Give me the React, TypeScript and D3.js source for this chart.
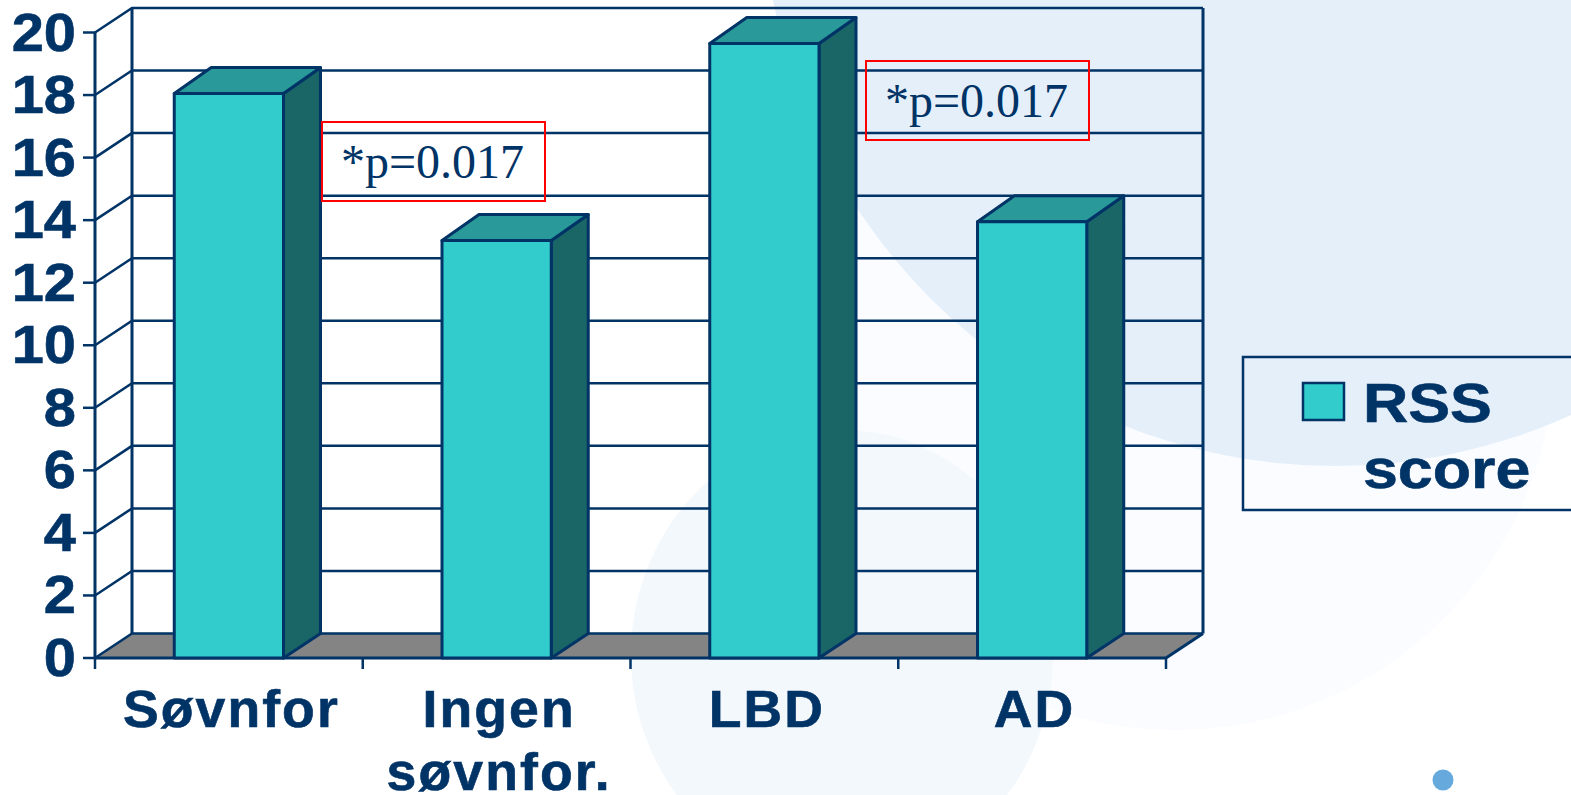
import React, { useEffect, useRef } from 'react';
import * as d3 from 'd3';

const categories = ['Søvnfor', 'Ingen søvnfor.', 'LBD', 'AD'];
const rssScore = [18.05, 13.35, 19.65, 13.95];
const yTicks = [0, 2, 4, 6, 8, 10, 12, 14, 16, 18, 20];
const legendLines = ['RSS', 'score'];
const annotationText = '*p=0.017';

const NAVY = '#003366';
const width = 1571;
const height = 795;

export default function App() {
  const svgRef = useRef<SVGSVGElement>(null);

  useEffect(() => {
    if (!svgRef.current) return;

    const svg = d3.select(svgRef.current);
    svg.selectAll('*').remove();

    // decoration behind the chart
    const bg = svg.append('g');
    bg.append('circle').attr('cx', 1175).attr('cy', 350).attr('r', 380).attr('fill', '#fafcff');
    bg.append('ellipse').attr('cx', 842).attr('cy', 655).attr('rx', 211).attr('ry', 225).attr('fill', '#f3f8fc');
    bg.append('circle').attr('cx', 1335).attr('cy', -106).attr('r', 572).attr('fill', '#e5effa');
    bg.append('circle').attr('cx', 1443).attr('cy', 780).attr('r', 10.5).attr('fill', '#66aadd');

    // scales
    const x = d3.scaleBand().domain(categories).range([95, 1166]).paddingInner(0.592).paddingOuter(0.296);
    const y = d3.scaleLinear().domain([0, 20]).range([658, 32.5]);
    const depthX = 37;
    const depthY = -24.5;
    const barTopDepthY = -26;
    const step = x.step();
    const x0 = 95;
    const x1 = 1166;

    // floor
    svg.append('path')
      .attr('d', `M${x0},${y(0)}L${x0 + depthX},${y(0) + depthY}L${x1 + depthX},${y(0) + depthY}L${x1},${y(0)}Z`)
      .attr('fill', '#848484');

    // grid lines on the back and side walls
    const grid = svg.append('g').attr('stroke', NAVY).attr('stroke-width', 2.5).attr('fill', 'none');
    grid.selectAll('.wall')
      .data(yTicks)
      .enter()
      .append('path')
      .attr('class', 'wall')
      .attr('d', d => `M${x0},${y(d)}L${x0 + depthX},${y(d) + depthY}L${x1 + depthX},${y(d) + depthY}`);
    grid.append('path')
      .attr('d', `M${x0},${y(0)}V${y(20)}M${x0 + depthX},${y(0) + depthY}V${y(20) + depthY}M${x1 + depthX},${y(0) + depthY}V${y(20) + depthY}`)
      .attr('stroke-width', 3);
    grid.append('path')
      .attr('d', `M${x0},${y(0)}H${x1}L${x1 + depthX},${y(0) + depthY}`)
      .attr('stroke-width', 3);

    // axis ticks
    grid.selectAll('.ytick')
      .data(yTicks)
      .enter()
      .append('line')
      .attr('class', 'ytick')
      .attr('x1', x0 - 12)
      .attr('x2', x0)
      .attr('y1', d => y(d))
      .attr('y2', d => y(d));
    grid.selectAll('.xtick')
      .data(d3.range(categories.length + 1))
      .enter()
      .append('line')
      .attr('class', 'xtick')
      .attr('x1', i => x0 + i * step)
      .attr('x2', i => x0 + i * step)
      .attr('y1', y(0))
      .attr('y2', y(0) + 11);

    // bars
    const bars = svg.append('g')
      .attr('stroke', NAVY)
      .attr('stroke-width', 3)
      .attr('stroke-linejoin', 'round');
    categories.forEach((c, i) => {
      const left = x(c) || 0;
      const right = left + x.bandwidth();
      const top = y(rssScore[i]);
      const bottom = y(0);
      bars.append('path')
        .attr('d', `M${right},${bottom}L${right + depthX},${bottom + depthY}V${top + barTopDepthY}L${right},${top}Z`)
        .attr('fill', '#1a6666');
      bars.append('path')
        .attr('d', `M${left},${top}L${left + depthX},${top + barTopDepthY}H${right + depthX}L${right},${top}Z`)
        .attr('fill', '#299999');
      bars.append('rect')
        .attr('x', left)
        .attr('y', top)
        .attr('width', x.bandwidth())
        .attr('height', bottom - top)
        .attr('fill', '#33cccc');
    });

    // tick labels, stretched a bit like the slide
    const boldText = (tx: number, ty: number, s: string, size: number, sx: number, anchor: string) =>
      svg.append('text')
        .attr('transform', `translate(${tx},${ty}) scale(${sx},1)`)
        .attr('text-anchor', anchor)
        .attr('font-family', '"Liberation Sans", Arial, sans-serif')
        .attr('font-weight', 700)
        .attr('font-size', size)
        .attr('fill', NAVY)
        .attr('stroke', NAVY)
        .attr('stroke-width', 0.6)
        .text(s);

    yTicks.forEach(t => boldText(76, y(t) + 18, String(t), 54, 1.07, 'end'));

    categories.forEach(c => {
      const cx = (x(c) || 0) + x.bandwidth() / 2 + 2.5;
      const parts = c.split(' ');
      parts.forEach((p, i) => boldText(cx, 727 + i * 63, p, 51, 1.05, 'middle').attr('letter-spacing', 2));
    });

    // red p-value boxes
    const boxes = [[322, 122], [866, 61]];
    boxes.forEach(([bx, by]) => {
      svg.append('rect')
        .attr('x', bx)
        .attr('y', by)
        .attr('width', 223)
        .attr('height', 79)
        .attr('fill', 'none')
        .attr('stroke', '#ff0000')
        .attr('stroke-width', 2);
      svg.append('text')
        .attr('x', bx + 19)
        .attr('y', by + 56)
        .attr('font-family', '"Liberation Serif", "Times New Roman", serif')
        .attr('font-size', 48)
        .attr('fill', NAVY)
        .text(annotationText);
    });

    // legend
    svg.append('rect')
      .attr('x', 1243)
      .attr('y', 357)
      .attr('width', 360)
      .attr('height', 153)
      .attr('fill', 'none')
      .attr('stroke', NAVY)
      .attr('stroke-width', 2.5);
    svg.append('rect')
      .attr('x', 1303)
      .attr('y', 383)
      .attr('width', 41)
      .attr('height', 37)
      .attr('fill', '#33cccc')
      .attr('stroke', NAVY)
      .attr('stroke-width', 2.5);
    legendLines.forEach((s, i) => boldText(1363, 422 + i * 66, s, 56, 1.12, 'start'));
  }, []);

  return (
    <svg
      ref={svgRef}
      width={width}
      height={height}
      style={{ position: 'absolute', left: 0, top: 0, background: '#fff' }}
    ></svg>
  );
}
